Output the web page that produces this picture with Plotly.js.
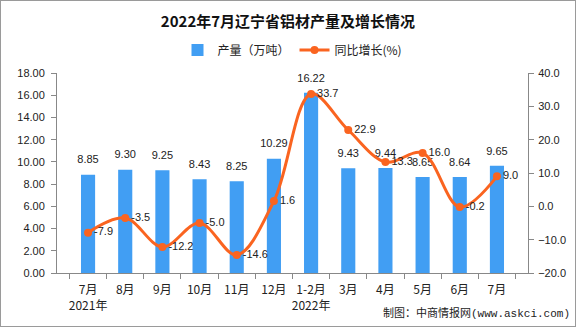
<!DOCTYPE html>
<html><head><meta charset="utf-8">
<script src="https://cdn.plot.ly/plotly-3.0.1.min.js"></script>
<style>
body{margin:0;padding:0;background:#fff;}
#wrap{position:relative;width:576px;height:327px;}
#chart{width:576px;height:327px;}
#frame{position:absolute;left:0;top:0;width:576px;height:327px;box-sizing:border-box;border:1px solid #9a9a9a;pointer-events:none;}
</style></head>
<body>
<div id="wrap"><div id="chart"></div><div id="frame"></div></div>
<script>
const categories = ['7月<br>2021年','8月','9月','10月','11月','12月','1-2月<br>2022年','3月','4月','5月','6月','7月'];
const production = [8.85, 9.30, 9.25, 8.43, 8.25, 10.29, 16.22, 9.43, 9.44, 8.65, 8.64, 9.65];
const growth = [-7.9, -3.5, -12.2, -5.0, -14.6, 1.6, 33.7, 22.9, 13.3, 16.0, -0.2, 9.0];
const seriesNames = ['产量（万吨）', '同比增长(%)'];
const titleText = '2022年7月辽宁省铝材产量及增长情况';
const sourceText = '制图：中商情报网(www.askci.com)';

const numFont = 'Liberation Sans, Noto Sans CJK SC, sans-serif';
const monoFont = 'Liberation Mono, Noto Sans CJK SC, monospace';
const cjkFont = 'Noto Sans CJK SC, sans-serif';
const barColor = '#419EF3';
const lineColor = '#FA6420';

const traces = [
  {
    type: 'bar', name: seriesNames[0], x: categories, y: production,
    marker: {color: barColor}, width: 0.38,
    hoverinfo: 'none'
  },
  {
    // bar value labels, lifted a little above the bar tops
    type: 'scatter', mode: 'markers+text', showlegend: false, x: categories, y: production,
    marker: {size: 12, opacity: 0}, text: production.map(v => v.toFixed(2)), textposition: 'top center',
    textfont: {family: numFont, size: 11, color: '#222'}, cliponaxis: false, hoverinfo: 'none'
  },
  {
    type: 'scatter', mode: 'lines+markers+text', name: seriesNames[1], x: categories, y: growth,
    yaxis: 'y2', line: {color: lineColor, width: 3, shape: 'spline', smoothing: 1.0},
    marker: {color: lineColor, size: 8},
    text: growth.map(v => v.toFixed(1)), textposition: 'middle right',
    textfont: {family: numFont, size: 11, color: '#222'}, cliponaxis: false,
    hoverinfo: 'none'
  }
];

const layout = {
  width: 576, height: 327,
  margin: {l: 57, r: 48, t: 73, b: 54},
  paper_bgcolor: '#fff', plot_bgcolor: 'rgba(0,0,0,0)',
  showlegend: true,
  title: {text: '<b>' + titleText + '</b>', x: 0.5, xanchor: 'center', y: 0.935, yanchor: 'middle',
          font: {family: cjkFont, size: 15, color: '#111'}},
  legend: {orientation: 'h', x: 0.5, xanchor: 'center', y: 1.115, yanchor: 'middle',
           font: {family: cjkFont, size: 12, color: '#222'},
           bgcolor: 'rgba(0,0,0,0)', traceorder: 'normal'},
  bargap: 0.62,
  xaxis: {type: 'category', showline: true, linecolor: '#888', linewidth: 1,
          ticks: 'outside', tickson: 'boundaries', ticklen: 5, tickcolor: '#888', tickangle: 0,
          ticklabelstandoff: 6,
          showgrid: false, tickfont: {family: cjkFont, size: 12, color: '#222'}, fixedrange: true},
  yaxis: {range: [0, 18], dtick: 2, tickformat: '.2f', showline: true, linecolor: '#888',
          ticks: 'outside', ticklen: 5, tickcolor: '#888', showgrid: false, zeroline: false,
          ticklabelstandoff: 4,
          tickfont: {family: numFont, size: 11, color: '#222'}, fixedrange: true},
  yaxis2: {range: [-20, 40], dtick: 10, tickformat: '.1f', overlaying: 'y', side: 'right',
           showline: true, linecolor: '#888', ticks: 'outside', ticklen: 5, tickcolor: '#888',
           showgrid: false, zeroline: false, ticklabelstandoff: 2,
           tickfont: {family: numFont, size: 11, color: '#222'}, fixedrange: true},
  annotations: [
    {text: sourceText, xref: 'paper', yref: 'paper', x: 1.093, y: -0.2, xanchor: 'right', yanchor: 'middle',
     showarrow: false, font: {family: monoFont, size: 11, color: '#222'}}
  ]
};

Plotly.newPlot('chart', traces, layout, {displayModeBar: false, staticPlot: true});
</script>
</body></html>
